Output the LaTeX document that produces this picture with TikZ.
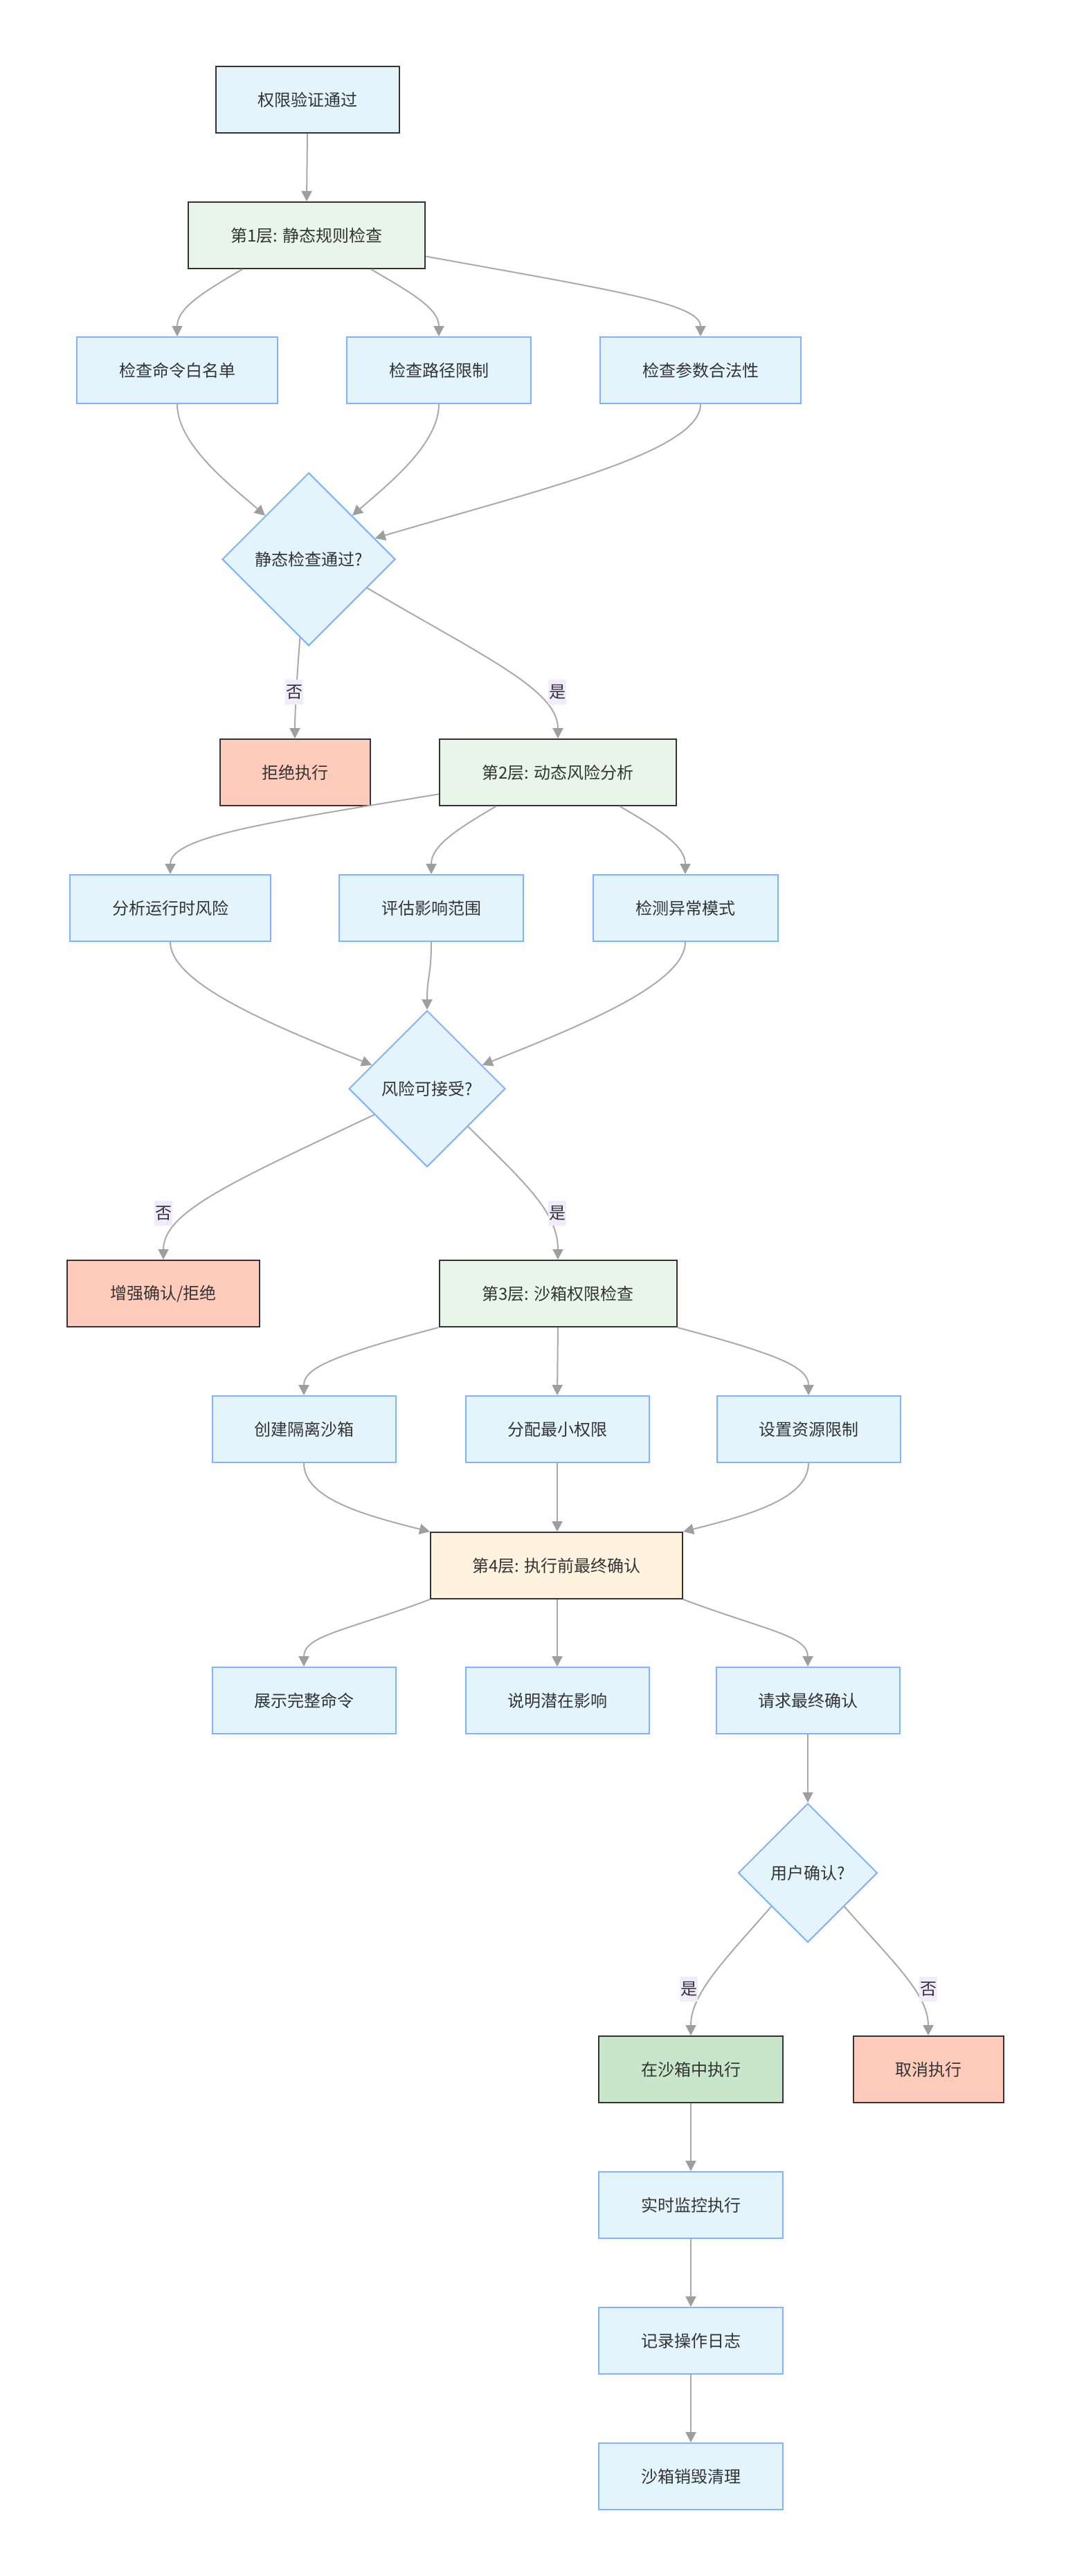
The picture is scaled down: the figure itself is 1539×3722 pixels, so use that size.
\documentclass[tikz,border=0pt]{standalone}
\usepackage{fontspec}
\setmainfont{Noto Sans CJK SC}
\usetikzlibrary{arrows.meta,shapes.geometric,calc}
\definecolor{bluefill}{HTML}{E3F4FD}
\definecolor{bluedraw}{HTML}{82B1FF}
\definecolor{greenfill}{HTML}{E8F5E9}
\definecolor{redfill}{HTML}{FFCCBC}
\definecolor{orangefill}{HTML}{FFF3E0}
\definecolor{okfill}{HTML}{C8E6C9}
\definecolor{darkdraw}{HTML}{333333}
\definecolor{textc}{HTML}{333333}
\definecolor{edgec}{HTML}{AAAAAA}
\definecolor{arrowc}{HTML}{9E9E9E}
\definecolor{lblfill}{HTML}{F2EAFD}
\tikzset{
  box/.style={rectangle, minimum height=96pt, line width=2pt, inner sep=0pt,
    font=\fontsize{24}{28}\selectfont, text=textc},
  bluebox/.style={box, fill=bluefill, draw=bluedraw},
  startbox/.style={box, fill=bluefill, draw=darkdraw},
  layerbox/.style={box, fill=greenfill, draw=darkdraw},
  redbox/.style={box, fill=redfill, draw=darkdraw},
  finalbox/.style={box, fill=orangefill, draw=darkdraw},
  okbox/.style={box, fill=okfill, draw=darkdraw},
  decision/.style={diamond, aspect=1, inner sep=0pt, fill=bluefill, draw=bluedraw,
    line width=2pt, font=\fontsize{24}{28}\selectfont, text=textc},
  edge/.style={draw=edgec, line width=2pt,
    -{Triangle[length=15pt,width=15pt,fill=arrowc,color=arrowc]}},
  lbl/.style={fill=lblfill, inner xsep=1pt, inner ysep=0pt, minimum height=36pt,
    font=\fontsize{24}{28}\selectfont, text=textc}
}
\begin{document}
\begin{tikzpicture}[x=1pt,y=-1pt]
\useasboundingbox[fill=white] (0,0) rectangle (1539,3722);

% nodes
\node[startbox, minimum width=265pt] (a) at (444,144) {权限验证通过};
\node[layerbox, minimum width=342pt] (b) at (443,340) {第1层: 静态规则检查};
\node[bluebox, minimum width=290pt] (c1) at (256,535) {检查命令白名单};
\node[bluebox, minimum width=266pt] (c2) at (634,535) {检查路径限制};
\node[bluebox, minimum width=290pt] (c3) at (1012,535) {检查参数合法性};
\node[decision, minimum width=250pt, minimum height=250pt] (d1) at (446,808) {静态检查通过?};
\node[redbox, minimum width=217pt] (e1) at (426,1116) {拒绝执行};
\node[layerbox, minimum width=342pt] (e2) at (806,1116) {第2层: 动态风险分析};
\node[bluebox, minimum width=290pt] (f1) at (246,1312) {分析运行时风险};
\node[bluebox, minimum width=266pt] (f2) at (623,1312) {评估影响范围};
\node[bluebox, minimum width=267pt] (f3) at (990,1312) {检测异常模式};
\node[decision, minimum width=226pt, minimum height=226pt] (d2) at (617,1573) {风险可接受?};
\node[redbox, minimum width=278pt] (g1) at (236,1869) {增强确认/拒绝};
\node[layerbox, minimum width=343pt] (g2) at (806,1869) {第3层: 沙箱权限检查};
\node[bluebox, minimum width=265pt] (h1) at (439,2065) {创建隔离沙箱};
\node[bluebox, minimum width=265pt] (h2) at (805,2065) {分配最小权限};
\node[bluebox, minimum width=265pt] (h3) at (1168,2065) {设置资源限制};
\node[finalbox, minimum width=364pt] (i) at (804,2262) {第4层: 执行前最终确认};
\node[bluebox, minimum width=265pt] (j1) at (439,2457) {展示完整命令};
\node[bluebox, minimum width=265pt] (j2) at (805,2457) {说明潜在影响};
\node[bluebox, minimum width=265pt] (j3) at (1167,2457) {请求最终确认};
\node[decision, minimum width=201pt, minimum height=201pt] (d3) at (1167,2706) {用户确认?};
\node[okbox, minimum width=266pt] (k1) at (998,2990) {在沙箱中执行};
\node[redbox, minimum width=217pt] (k2) at (1341,2990) {取消执行};
\node[bluebox, minimum width=266pt] (l) at (998,3186) {实时监控执行};
\node[bluebox, minimum width=266pt] (m) at (998,3382) {记录操作日志};
\node[bluebox, minimum width=266pt] (n) at (998,3578) {沙箱销毁清理};

% edges
\draw[edge] (a.south) -- (b.north);
\draw[edge] ($(b.south west)!0.23!(b.south east)$) .. controls +(-60,35) and +(0,-40) .. (c1.north);
\draw[edge] ($(b.south west)!0.77!(b.south east)$) .. controls +(60,35) and +(0,-40) .. (c2.north);
\draw[edge] ($(b.south east)!0.19!(b.north east)$) .. controls +(276,50) and +(0,-47) .. (c3.north);
\draw[edge] (c1.south) .. controls +(0,60) and +(-45,-40) .. (d1.north west);
\draw[edge] (c2.south) .. controls +(0,60) and +(45,-40) .. (d1.north east);
\draw[edge] (c3.south) .. controls +(0,70) and +(229,-68) .. ($(d1.north)!0.76!(d1.east)$);
\draw[edge] ($(d1.south)!0.1!(d1.west)$) .. controls +(-4,50) and +(0,-40) .. (e1.north);
\draw[edge] ($(d1.east)!0.33!(d1.south)$) .. controls +(170,100) and +(0,-70) .. (e2.north);

\draw[edge] ($(e2.south west)!0.18!(e2.north west)$) .. controls +(-240,40) and +(0,-55) .. (f1.north);
\draw[edge] ($(e2.south west)!0.24!(e2.south east)$) .. controls +(-60,35) and +(0,-40) .. (f2.north);
\draw[edge] ($(e2.south west)!0.76!(e2.south east)$) .. controls +(60,35) and +(0,-40) .. (f3.north);
\draw[edge] (f1.south) .. controls +(0,60) and +(-143,-57) .. ($(d2.west)!0.3!(d2.north)$);
\draw[edge] (f2.south) .. controls +(0,50) and +(0,-50) .. (d2.north);
\draw[edge] (f3.south) .. controls +(0,60) and +(143,-57) .. ($(d2.east)!0.3!(d2.north)$);
\draw[edge] ($(d2.west)!0.33!(d2.south)$) .. controls +(-200,95) and +(0,-70) .. (g1.north);
\draw[edge] ($(d2.east)!0.48!(d2.south)$) .. controls +(80,80) and +(0,-70) .. (g2.north);

\draw[edge] (g2.south west) .. controls +(-150,40) and +(0,-40) .. (h1.north);
\draw[edge] (g2.south) -- (h2.north);
\draw[edge] (g2.south east) .. controls +(150,40) and +(0,-40) .. (h3.north);
\draw[edge] (h1.south) .. controls +(0,50) and +(-100,-25) .. (i.north west);
\draw[edge] (h2.south) -- (i.north -| h2.south);
\draw[edge] (h3.south) .. controls +(0,50) and +(100,-25) .. (i.north east);
\draw[edge] (i.south west) .. controls +(-120,45) and +(0,-45) .. (j1.north);
\draw[edge] (i.south -| j2.north) -- (j2.north);
\draw[edge] (i.south east) .. controls +(120,45) and +(0,-45) .. (j3.north);
\draw[edge] (j3.south) -- (d3.north);
\draw[edge] ($(d3.west)!0.48!(d3.south)$) .. controls +(-70,80) and +(0,-60) .. (k1.north);
\draw[edge] ($(d3.east)!0.48!(d3.south)$) .. controls +(70,80) and +(0,-60) .. (k2.north);
\draw[edge] (k1.south) -- (l.north);
\draw[edge] (l.south) -- (m.north);
\draw[edge] (m.south) -- (n.north);

% edge labels
\node[lbl] (l1) at (425,1000) {否};
\node[lbl] (l2) at (805,1000) {是};
\node[lbl] (l3) at (236,1753) {否};
\node[lbl] (l4) at (805,1753) {是};
\node[lbl] (l5) at (995,2874) {是};
\node[lbl] (l6) at (1341,2874) {否};
\end{tikzpicture}
\end{document}
